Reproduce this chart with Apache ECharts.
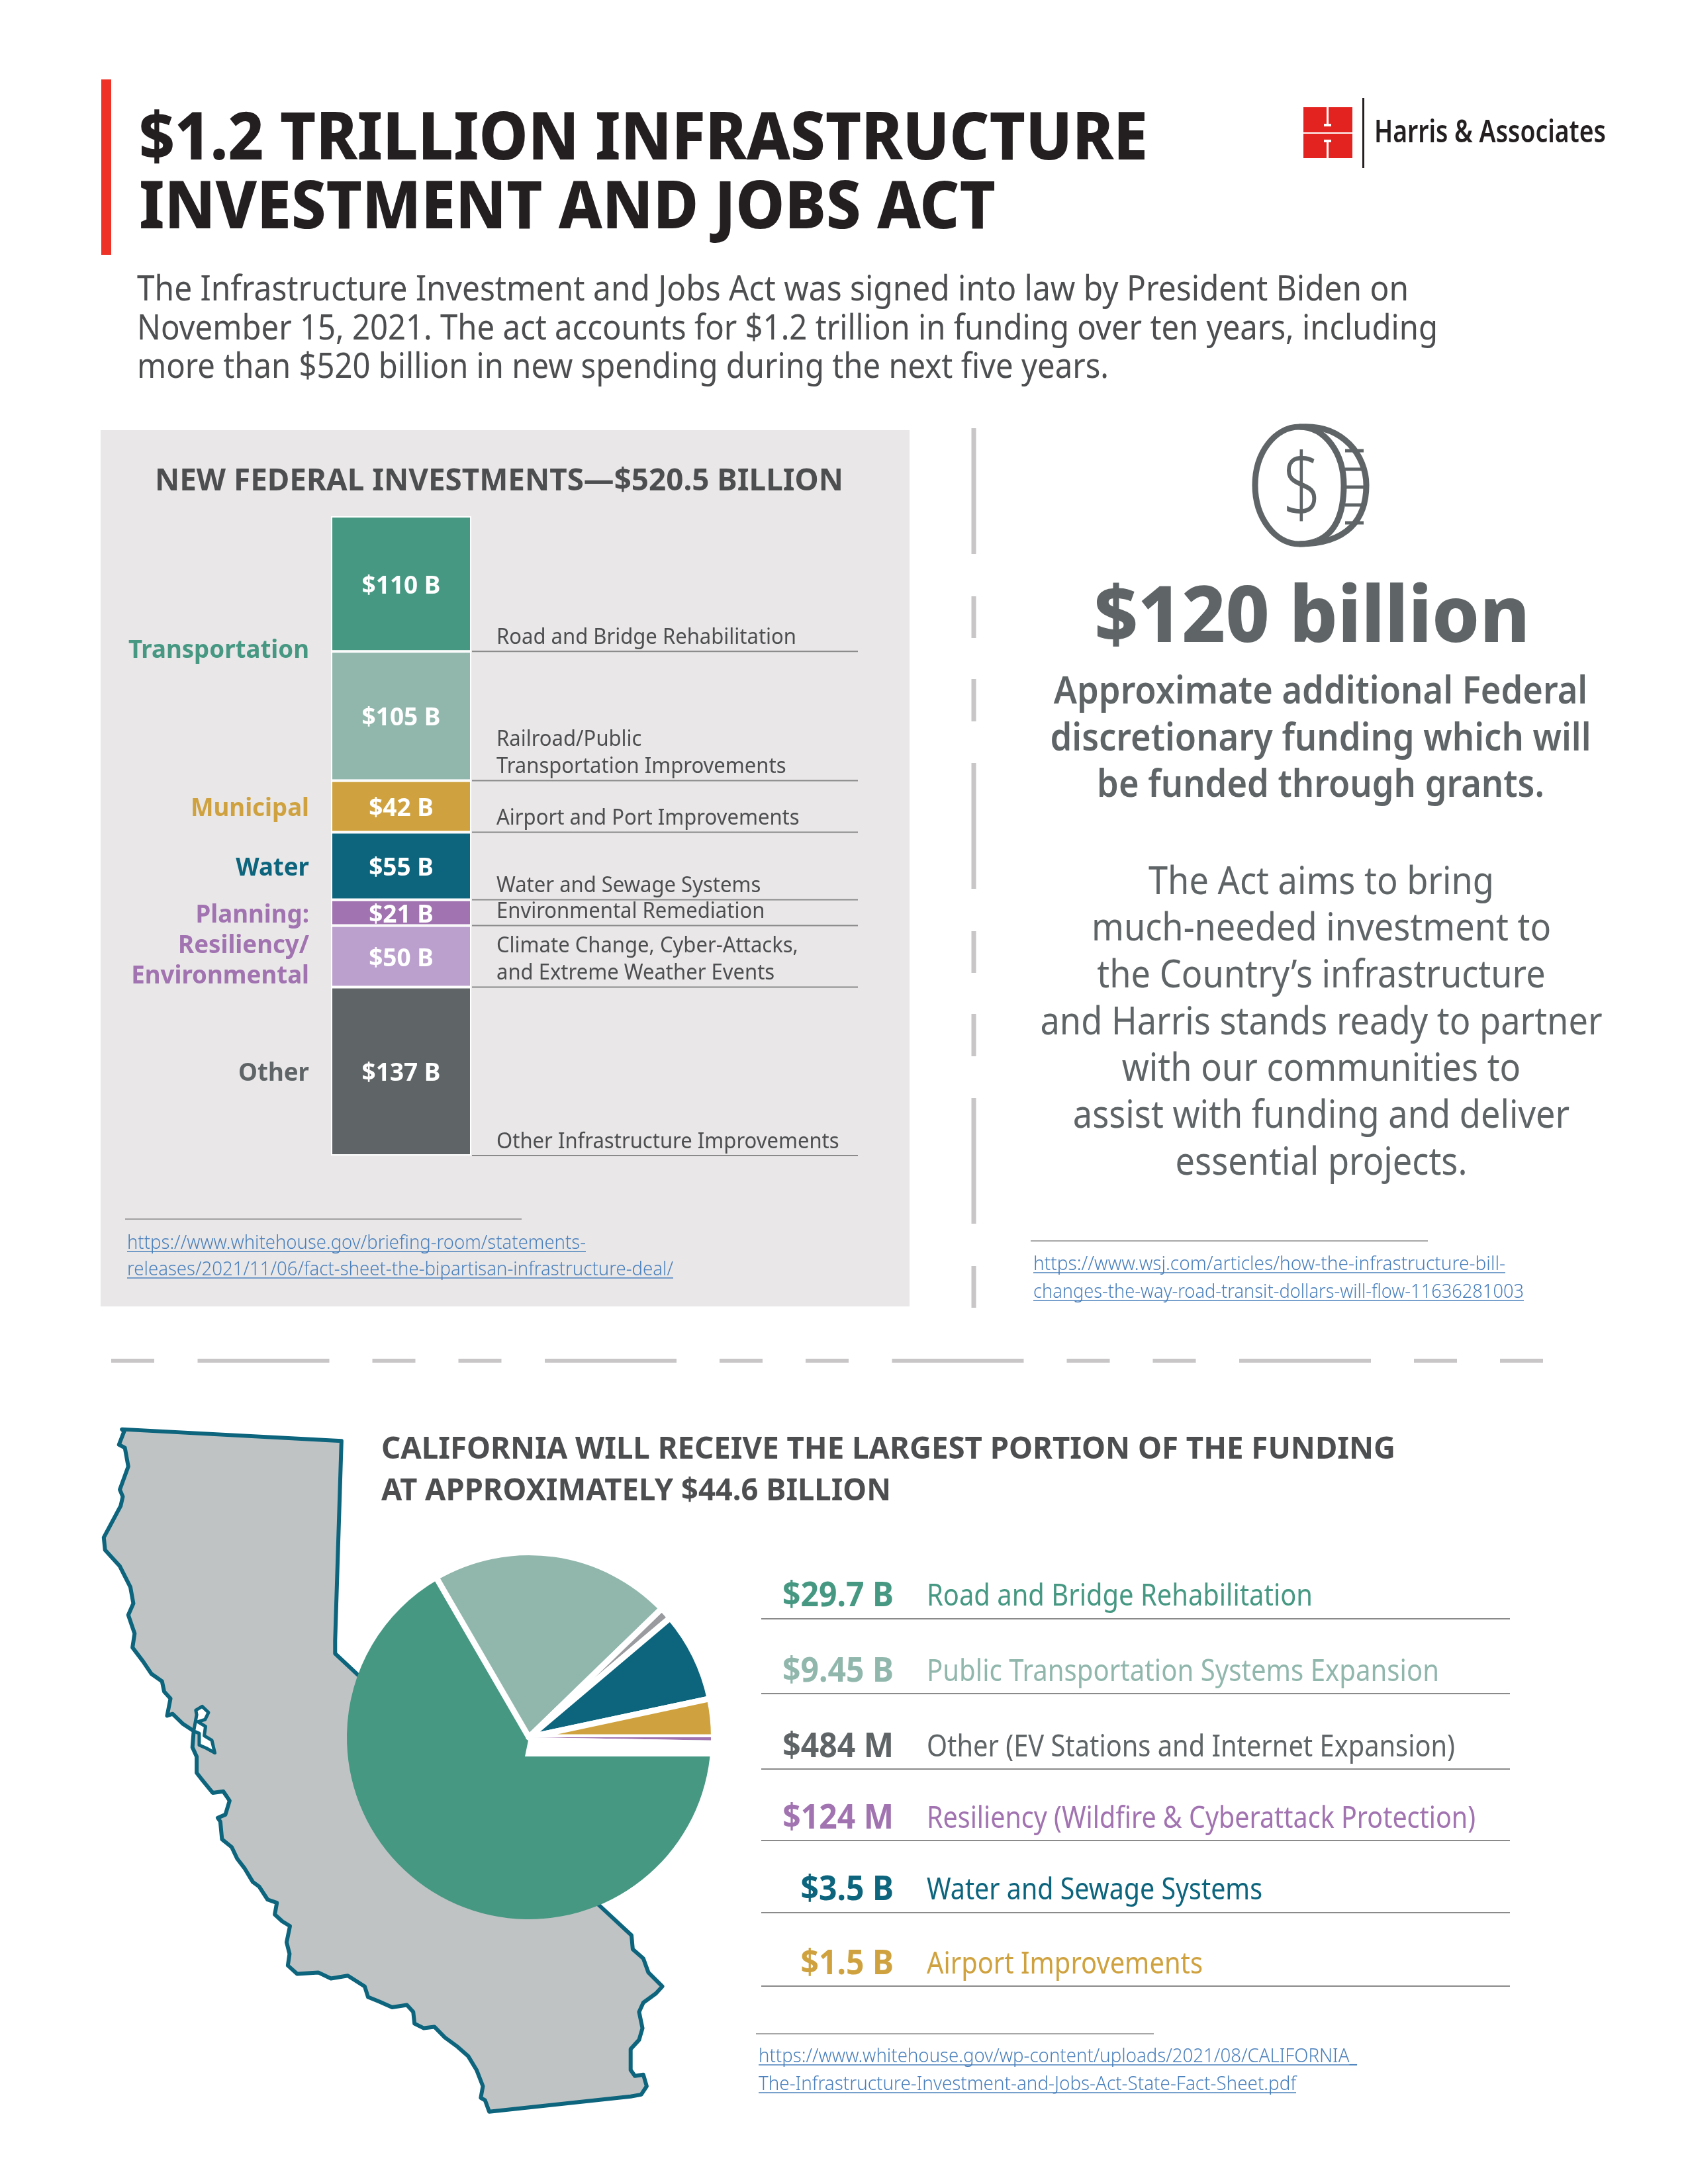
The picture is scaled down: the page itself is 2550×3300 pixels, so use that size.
<!DOCTYPE html>
<html>
<head>
<meta charset="utf-8">
<title>$1.2 Trillion Infrastructure Investment and Jobs Act</title>
<script src="https://cdn.jsdelivr.net/npm/echarts@6/dist/echarts.min.js"></script>
<style>
html,body{margin:0;padding:0;background:#fff;}
#chart{width:2550px;height:3300px;}
</style>
</head>
<body>
<div id="chart"></div>
<script>
// federal stacked column
var federalValues = [110, 105, 42, 55, 21, 50, 137];
var federalColors = ['#469882','#91B7AD','#CFA23F','#0C647D','#A173B0','#BBA0CE','#5F6567'];
var federalNotes = [
    ['Road and Bridge Rehabilitation'],
    ['Railroad/Public','Transportation Improvements'],
    ['Airport and Port Improvements'],
    ['Water and Sewage Systems'],
    ['Environmental Remediation'],
    ['Climate Change, Cyber-Attacks,','and Extreme Weather Events'],
    ['Other Infrastructure Improvements']
];
var groupNames = [['Transportation'],['Municipal'],['Water'],['Planning:','Resiliency/','Environmental'],['Other']];
var groupSizes = [2,1,1,2,1];
var groupColors = ['#469882','#CFA23F','#0C647D','#A173B0','#5F6567'];

// california pie
var pieNames = ['Road and Bridge','Public Transportation','Other','Water and Sewage','Airport','Resiliency'];
var pieValues = [29.7, 9.45, 0.484, 3.5, 1.5, 0.124];
var pieColors = ['#469882','#91B7AD','#9A9B9E','#0C647D','#CFA23F','#A173B0'];

// california list
var listAmounts = ['$29.7 B','$9.45 B','$484 M','$124 M','$3.5 B','$1.5 B'];
var listLabels = ['Road and Bridge Rehabilitation','Public Transportation Systems Expansion','Other (EV Stations and Internet Expansion)','Resiliency (Wildfire & Cyberattack Protection)','Water and Sewage Systems','Airport Improvements'];
var listColors = ['#469882','#91B7AD','#5F6567','#A173B0','#0C647D','#CFA23F'];

// layout
var listBase = [2427,2541,2655,2763,2871,2983];
var listRule = [2446,2559,2673,2781,2890,3001];
var listLabelWidths = [583,774,798,829,507,417];
var rightBold = ['Approximate additional Federal','discretionary funding which will','be funded through grants.'];
var rightBoldBase = [1064,1135,1205];
var rightBody = ['The Act aims to bring','much-needed investment to','the Country\u2019s infrastructure','and Harris stands ready to partner','with our communities to','assist with funding and deliver','essential projects.'];
var rightBodyBase = [1352,1422,1493,1564,1634,1705,1776];
var caOutline = [[85,85],[605,110],[590,540],[590,568],[645,615],[1215,1110],[1292,1175],[1295,1205],[1320,1225],[1332,1255],[1365,1285],[1350,1300],[1320,1320],[1310,1340],[1318,1375],[1310,1400],[1290,1420],[1290,1465],[1300,1478],[1320,1475],[1328,1500],[1315,1518],[1290,1522],[955,1555],[945,1530],[935,1525],[940,1500],[925,1465],[905,1435],[880,1415],[850,1395],[825,1372],[800,1375],[778,1365],[775,1340],[760,1325],[725,1330],[695,1318],[668,1308],[660,1285],[620,1262],[580,1268],[550,1255],[500,1258],[478,1240],[482,1215],[475,1190],[483,1155],[465,1145],[447,1130],[452,1105],[430,1098],[410,1070],[395,1060],[375,1030],[358,1010],[345,985],[322,968],[318,930],[312,922],[330,915],[340,885],[325,865],[300,868],[275,840],[262,825],[262,790],[252,770],[255,735],[230,720],[205,698],[192,702],[200,665],[185,650],[180,628],[155,612],[135,585],[110,555],[115,525],[100,485],[112,460],[105,425],[80,380],[45,345],[42,318],[82,250],[87,230],[80,215],[100,165],[92,125],[78,118],[90,90]];
var caBay = [[255,735],[262,700],[260,690],[275,682],[290,695],[282,710],[265,715],[283,725],[280,745],[298,755],[305,782],[285,772],[268,765],[268,740]];

var FONT = '"Noto Sans"';
var DARK = '#4D4E50', GREY = '#5F6567', LINK = '#4A80BC', RED = '#E3231F';
var PIE_C = [799,2625], PIE_R = 275, PIE_GAP = 9, PIE_START = 1;

var ctx = document.createElement('canvas').getContext('2d');
function scaleFor(str,size,weight,width){
    ctx.font = weight+' '+size+'px '+FONT;
    return width/ctx.measureText(str).width;
}
function txt(str,x,base,size,color,o){
    o = o || {};
    var weight = o.weight || 400;
    var sx = o.sx || 1;
    if(o.width){ sx = scaleFor(str,size,weight,o.width); }
    return {
        type:'text', x:x, y:base-size*0.30, scaleX:sx, z:4,
        style:{text:str, font:weight+' '+size+'px '+FONT, fill:color, textAlign:o.align||'left', verticalAlign:'middle'}
    };
}
function rule(x1,y,x2,color,w){
    return {type:'line', z:3, shape:{x1:x1,y1:y,x2:x2,y2:y}, style:{stroke:color,lineWidth:w}};
}
function link(str,x,base,width){
    return [txt(str,x,base,29,LINK,{width:width,weight:300}), rule(x,base+4,x+width,LINK,1.5)];
}
function bez(p){
    return {type:'bezierCurve', z:3, shape:{x1:p[0],y1:p[1],cpx1:p[2],cpy1:p[3],cpx2:p[4],cpy2:p[5],x2:p[6],y2:p[7]}, style:{fill:null,stroke:GREY,lineWidth:9}};
}
function mapPts(list){
    return list.map(function(p){ return [p[0]/1.568+130, p[1]/1.4255+2100]; });
}
function rim(deg,r){
    var a = deg*Math.PI/180;
    return [PIE_C[0]+r*Math.cos(a), PIE_C[1]+r*Math.sin(a)];
}

var els = [];
// header
els.push({type:'rect', z:1, shape:{x:153,y:120,width:15,height:265}, style:{fill:'#EE3228'}});
els.push(txt('$1.2 TRILLION INFRASTRUCTURE',210,243,100,'#231F20',{weight:800,width:1524}));
els.push(txt('INVESTMENT AND JOBS ACT',210,347,100,'#231F20',{weight:800,width:1294}));
els.push(txt('The Infrastructure Investment and Jobs Act was signed into law by President Biden on',207,455,52,DARK,{width:1921}));
els.push(txt('November 15, 2021. The act accounts for $1.2 trillion in funding over ten years, including',207,514,52,DARK,{width:1965}));
els.push(txt('more than $520 billion in new spending during the next five years.',207,572,52,DARK,{width:1468}));
// logo
els.push({type:'rect', z:1, shape:{x:1969,y:162,width:74,height:38}, style:{fill:RED}});
els.push({type:'rect', z:1, shape:{x:1969,y:202,width:74,height:37}, style:{fill:RED}});
els.push({type:'rect', z:2, shape:{x:2004,y:162,width:3,height:25}, style:{fill:'#fff'}});
els.push({type:'rect', z:2, shape:{x:2000,y:187,width:11,height:4}, style:{fill:'#fff'}});
els.push({type:'rect', z:2, shape:{x:2000,y:211,width:11,height:4}, style:{fill:'#fff'}});
els.push({type:'rect', z:2, shape:{x:2004,y:215,width:3,height:24}, style:{fill:'#fff'}});
els.push({type:'rect', z:2, shape:{x:2058,y:148,width:3,height:106}, style:{fill:'#231F20'}});
els.push(txt('Harris & Associates',2076,216,46,'#231F20',{weight:600,width:350}));
// federal panel
els.push({type:'rect', z:0, shape:{x:152,y:650,width:1222,height:1324}, style:{fill:'#E9E7E8'}});
els.push(txt('NEW FEDERAL INVESTMENTS\u2014$520.5 BILLION',234,742,47,DARK,{weight:700,width:1040}));
els.push(rule(189,1842,788,'#8A8A8A',1.5));
els = els.concat(link('https://www.whitehouse.gov/briefing-room/statements-',192,1887,693));
els = els.concat(link('releases/2021/11/06/fact-sheet-the-bipartisan-infrastructure-deal/',192,1927,825));
// right column
els.push({type:'line', z:1, shape:{x1:1471,y1:647,x2:1471,y2:1977}, style:{stroke:'#C9C6C7',lineWidth:7,lineDash:[190,64,63,62,64,63]}});
[
    [1963,645,2002,645,2030,685,2030,733],
    [2030,733,2030,775,2018,805,1990,817],
    [1990,817,1980,821,1972,822,1963,822],
    [1963,822,1926,822,1896,782,1896,733],
    [1896,733,1896,684,1926,645,1963,645],
    [1963,645,2030,640,2064,690,2064,733],
    [2064,733,2064,785,2035,822,1963,822]
].forEach(function(p){ els.push(bez(p)); });
[681,709,736,763,790].forEach(function(y){
    els.push(rule(2032,y,2060,GREY,5));
});
els.push(txt('$',1967,782,132,GREY,{weight:300,align:'center',sx:0.78}));
els.push(txt('$120 billion',1982,972,118,GREY,{weight:800,align:'center',width:658}));
var boldSx = scaleFor(rightBold[1],58,600,817);
rightBold.forEach(function(s,i){ els.push(txt(s,1995,rightBoldBase[i],58,GREY,{weight:600,align:'center',sx:boldSx})); });
var bodySx = scaleFor(rightBody[3],58,400,849);
rightBody.forEach(function(s,i){ els.push(txt(s,1996,rightBodyBase[i],58,GREY,{align:'center',sx:bodySx})); });
els.push(rule(1557,1875,2157,'#8A8A8A',1.5));
els = els.concat(link('https://www.wsj.com/articles/how-the-infrastructure-bill-',1561,1919,713));
els = els.concat(link('changes-the-way-road-transit-dollars-will-flow-11636281003',1561,1961,741));
// section divider
els.push({type:'line', z:1, shape:{x1:168,y1:2056,x2:2336,y2:2056}, style:{stroke:'#C9C6C7',lineWidth:6,lineDash:[199,65,65,65,65,65.5],lineDashOffset:394}});
// california
els.push({type:'polygon', z:1, shape:{points:mapPts(caOutline)}, style:{fill:'#BFC3C4',stroke:'#0C647D',lineWidth:6,lineJoin:'round'}});
els.push({type:'polygon', z:1, shape:{points:mapPts(caBay)}, style:{fill:'#fff',stroke:'#0C647D',lineWidth:5,lineJoin:'round'}});
els.push(txt('CALIFORNIA WILL RECEIVE THE LARGEST PORTION OF THE FUNDING',576,2205,47,DARK,{weight:700,width:1532}));
els.push(txt('AT APPROXIMATELY $44.6 BILLION',576,2268,47,DARK,{weight:700,width:770}));
// opens the gap above the first slice, the rest of the gaps are slice borders
els.push({type:'polygon', z:10, shape:{points:[PIE_C,rim(PIE_START,PIE_R+3),rim(6,PIE_R+3),[793,2654]]}, style:{fill:'#fff'}});
var amountSx = scaleFor(listAmounts[0],52,700,168);
listAmounts.forEach(function(s,i){
    els.push(txt(s,1350,listBase[i]+1,52,listColors[i],{weight:700,align:'right',sx:amountSx}));
    els.push(txt(listLabels[i],1400,listBase[i],46,listColors[i],{width:listLabelWidths[i]}));
    els.push(rule(1150,listRule[i],2281,'#8A8A8A',2));
});
els.push(rule(1142,3073,1743,'#8A8A8A',1.5));
els = els.concat(link('https://www.whitehouse.gov/wp-content/uploads/2021/08/CALIFORNIA_',1146,3116,904));
els = els.concat(link('The-Infrastructure-Investment-and-Jobs-Act-State-Fact-Sheet.pdf',1146,3158,812));

// cumulative ends for the rules, group centres for the left labels
var total = 0, federalEnds = federalValues.map(function(v){ total += v; return total; });
var groupCenters = [], seg = 0;
groupSizes.forEach(function(n){
    var start = seg ? federalEnds[seg-1] : 0;
    seg += n;
    groupCenters.push((start+federalEnds[seg-1])/2);
});
var noteSx = scaleFor(federalNotes[0][0],33,400,453);
var catSx = scaleFor(groupNames[0][0],37,700,273);

var series = federalValues.map(function(v,i){
    return {
        type:'bar', stack:'federal', xAxisIndex:0, yAxisIndex:0, barWidth:'100%', silent:true,
        data:[v],
        itemStyle:{color:federalColors[i],borderColor:'#fff',borderWidth:2},
        label:{show:true,position:'inside',offset:[0,4],formatter:'${c} B',color:'#fff',fontFamily:FONT,fontWeight:700,fontSize:37}
    };
});
series.push({
    type:'custom', xAxisIndex:1, yAxisIndex:1, silent:true,
    data:federalEnds.map(function(v){ return [0,v]; }),
    renderItem:function(params,api){
        var y = api.coord([0,api.value(1)])[1];
        var box = params.coordSys;
        var lines = federalNotes[params.dataIndex];
        var kids = [rule(box.x,y,box.x+box.width,'#8A8A8A',2)];
        lines.forEach(function(s,i){
            kids.push(txt(s,box.x+37,y-11-(lines.length-1-i)*41,33,DARK,{sx:noteSx}));
        });
        return {type:'group',children:kids};
    }
});
series.push({
    type:'custom', xAxisIndex:1, yAxisIndex:1, silent:true,
    data:groupCenters.map(function(v){ return [0,v]; }),
    renderItem:function(params,api){
        var y = api.coord([0,api.value(1)])[1];
        var lines = groupNames[params.dataIndex];
        var kids = lines.map(function(s,i){
            return txt(s,467,y+15+(i-(lines.length-1)/2)*46,37,groupColors[params.dataIndex],{weight:700,align:'right',sx:catSx});
        });
        return {type:'group',children:kids};
    }
});
// three stacked pies with the same angles: big slice with no border so no white ring
// shows on the map, middle slices with white borders on top of it, thin slice last
function piePart(z,r,border,keep){
    return {
        type:'pie', z:z, silent:true, center:PIE_C, radius:[0,r], startAngle:-PIE_START, clockwise:true,
        label:{show:false}, labelLine:{show:false},
        data:pieValues.map(function(v,i){
            return {
                name:pieNames[i], value:v,
                itemStyle: keep(i) ? {color:pieColors[i],borderColor:'#fff',borderWidth:border} : {color:'transparent',borderWidth:0}
            };
        })
    };
}
series.push(piePart(5,PIE_R,0,function(i){ return i==0; }));
series.push(piePart(6,PIE_R+PIE_GAP/2,PIE_GAP,function(i){ return i>0 && i<5; }));
series.push(piePart(7,PIE_R,0,function(i){ return i==5; }));

var myChart = echarts.init(document.getElementById('chart'),null,{renderer:'canvas'});
myChart.setOption({
    animation:false,
    backgroundColor:'#fff',
    tooltip:{show:false},
    grid:[
        {left:500,top:780,width:212,height:966},
        {left:713,top:780,width:583,height:966}
    ],
    xAxis:[
        {type:'category',gridIndex:0,data:['federal'],show:false},
        {type:'value',gridIndex:1,min:0,max:1,show:false}
    ],
    yAxis:[
        {type:'value',gridIndex:0,inverse:true,min:0,max:total,show:false},
        {type:'value',gridIndex:1,inverse:true,min:0,max:total,show:false}
    ],
    graphic:{elements:els},
    series:series
});
</script>
</body>
</html>
